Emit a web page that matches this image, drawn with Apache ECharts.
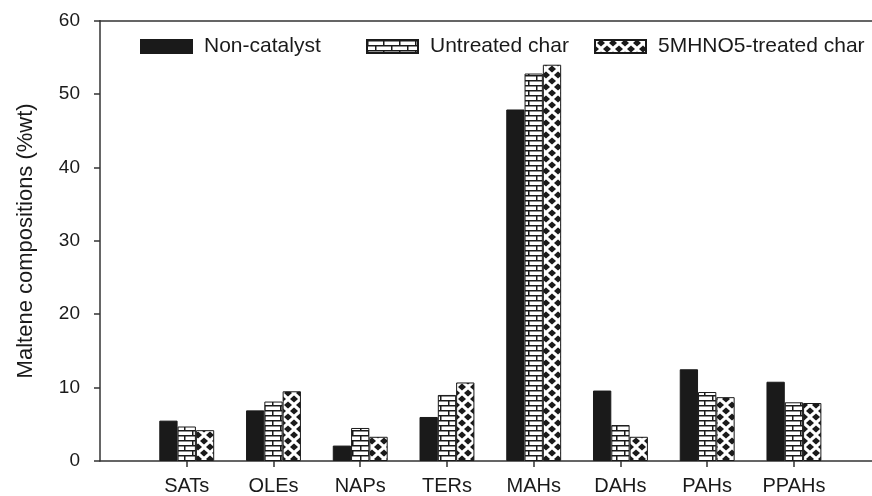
<!DOCTYPE html>
<html>
<head>
    <meta charset="utf-8">
    <title>Maltene compositions</title>
    <script src="https://cdn.jsdelivr.net/npm/echarts@6/dist/echarts.min.js"></script>
    <style>
        html, body { margin: 0; padding: 0; background: #fff; }
        #main { width: 872px; height: 496px; }
    </style>
</head>
<body>
<div id="main"></div>
<script>
    var categories = ['SATs', 'OLEs', 'NAPs', 'TERs', 'MAHs', 'DAHs', 'PAHs', 'PPAHs'];
    var nonCatalyst = [5.5, 6.9, 2.1, 6.0, 47.9, 9.6, 12.5, 10.8];
    var untreatedChar = [4.7, 8.1, 4.5, 9.0, 52.8, 4.9, 9.4, 8.0];
    var treatedChar = [4.2, 9.5, 3.3, 10.7, 54.0, 3.3, 8.7, 7.9];
    var seriesNames = ['Non-catalyst', 'Untreated char', '5MHNO5-treated char'];

    var FONT = 'Liberation Sans, Arial, sans-serif';
    var INK = '#1a1a1a';

    // brick fill for the untreated char bars
    function brickPattern() {
        var c = document.createElement('canvas');
        c.width = 16; c.height = 10;
        var g = c.getContext('2d');
        g.fillStyle = '#fff';
        g.fillRect(0, 0, 16, 10);
        g.fillStyle = INK;
        g.fillRect(0, 0, 16, 1.5);
        g.fillRect(0, 5, 16, 1.5);
        g.fillRect(0, 0, 1.5, 5);
        g.fillRect(8, 5, 1.5, 5);
        return c;
    }

    // staggered diamond fill for the treated char bars
    function diamondPattern() {
        var c = document.createElement('canvas');
        c.width = 12; c.height = 12;
        var g = c.getContext('2d');
        g.fillStyle = '#fff';
        g.fillRect(0, 0, 12, 12);
        g.fillStyle = INK;
        function dia(x, y) {
            g.beginPath();
            g.moveTo(x, y - 3.6);
            g.lineTo(x + 4, y);
            g.lineTo(x, y + 3.6);
            g.lineTo(x - 4, y);
            g.closePath();
            g.fill();
        }
        dia(6, 3);
        dia(6, 15);
        dia(0, 9);
        dia(12, 9);
        dia(0, -3);
        dia(12, -3);
        return c;
    }

    function pairs(values) {
        var out = [];
        for (var i = 0; i < values.length; i++) {
            out.push([i + 1, values[i]]);
        }
        return out;
    }

    var tickPos = [];
    for (var i = 0; i < categories.length; i++) tickPos.push(i + 1);

    var fills = [INK, {image: brickPattern(), repeat: 'repeat'}, {image: diamondPattern(), repeat: 'repeat'}];
    var values = [nonCatalyst, untreatedChar, treatedChar];
    var legendLeft = [140, 366, 594];

    var series = [], legends = [];
    for (var s = 0; s < 3; s++) {
        series.push({
            name: seriesNames[s],
            type: 'bar',
            data: pairs(values[s]),
            barWidth: 18.3,
            barGap: '0%',
            itemStyle: {color: fills[s], borderColor: INK, borderWidth: 1},
            emphasis: {disabled: true}
        });
        legends.push({
            data: [seriesNames[s]],
            left: legendLeft[s],
            top: 36,
            padding: 0,
            icon: 'rect',
            itemWidth: 51,
            itemHeight: 13,
            selectedMode: false,
            textStyle: {fontFamily: FONT, fontSize: 21, color: INK, padding: [0, 0, 0, 7]}
        });
    }

    var myChart = echarts.init(document.getElementById('main'));
    var option = {
        animation: false,
        backgroundColor: '#fff',
        legend: legends,
        grid: {left: 100, right: 0, top: 20.7, bottom: 35},
        xAxis: [{
            type: 'value',
            min: 0,
            max: 8.9,
            interval: 1,
            axisLine: {show: true, lineStyle: {color: '#333', width: 1.5}},
            axisTick: {show: true, customValues: tickPos, length: 6, lineStyle: {color: '#333', width: 1.5}},
            axisLabel: {
                customValues: tickPos,
                margin: 15,
                fontFamily: FONT,
                fontSize: 20,
                color: INK,
                formatter: function (v) { return categories[Math.round(v) - 1] || ''; }
            },
            splitLine: {show: false}
        }, {
            type: 'value',
            position: 'top',
            min: 0,
            max: 8.9,
            axisLine: {show: true, lineStyle: {color: '#333', width: 1.5}},
            axisTick: {show: false},
            axisLabel: {show: false},
            splitLine: {show: false}
        }],
        yAxis: {
            type: 'value',
            min: 0,
            max: 60,
            interval: 10,
            name: 'Maltene compositions (%wt)',
            nameLocation: 'middle',
            nameGap: 63,
            nameTextStyle: {fontFamily: FONT, fontSize: 22, color: INK},
            axisLine: {show: true, lineStyle: {color: '#333', width: 1.5}},
            axisTick: {show: true, length: 6, lineStyle: {color: '#333', width: 1.5}},
            axisLabel: {margin: 20, fontFamily: FONT, fontSize: 19, color: INK},
            splitLine: {show: false}
        },
        series: series
    };
    myChart.setOption(option);
</script>
</body>
</html>
